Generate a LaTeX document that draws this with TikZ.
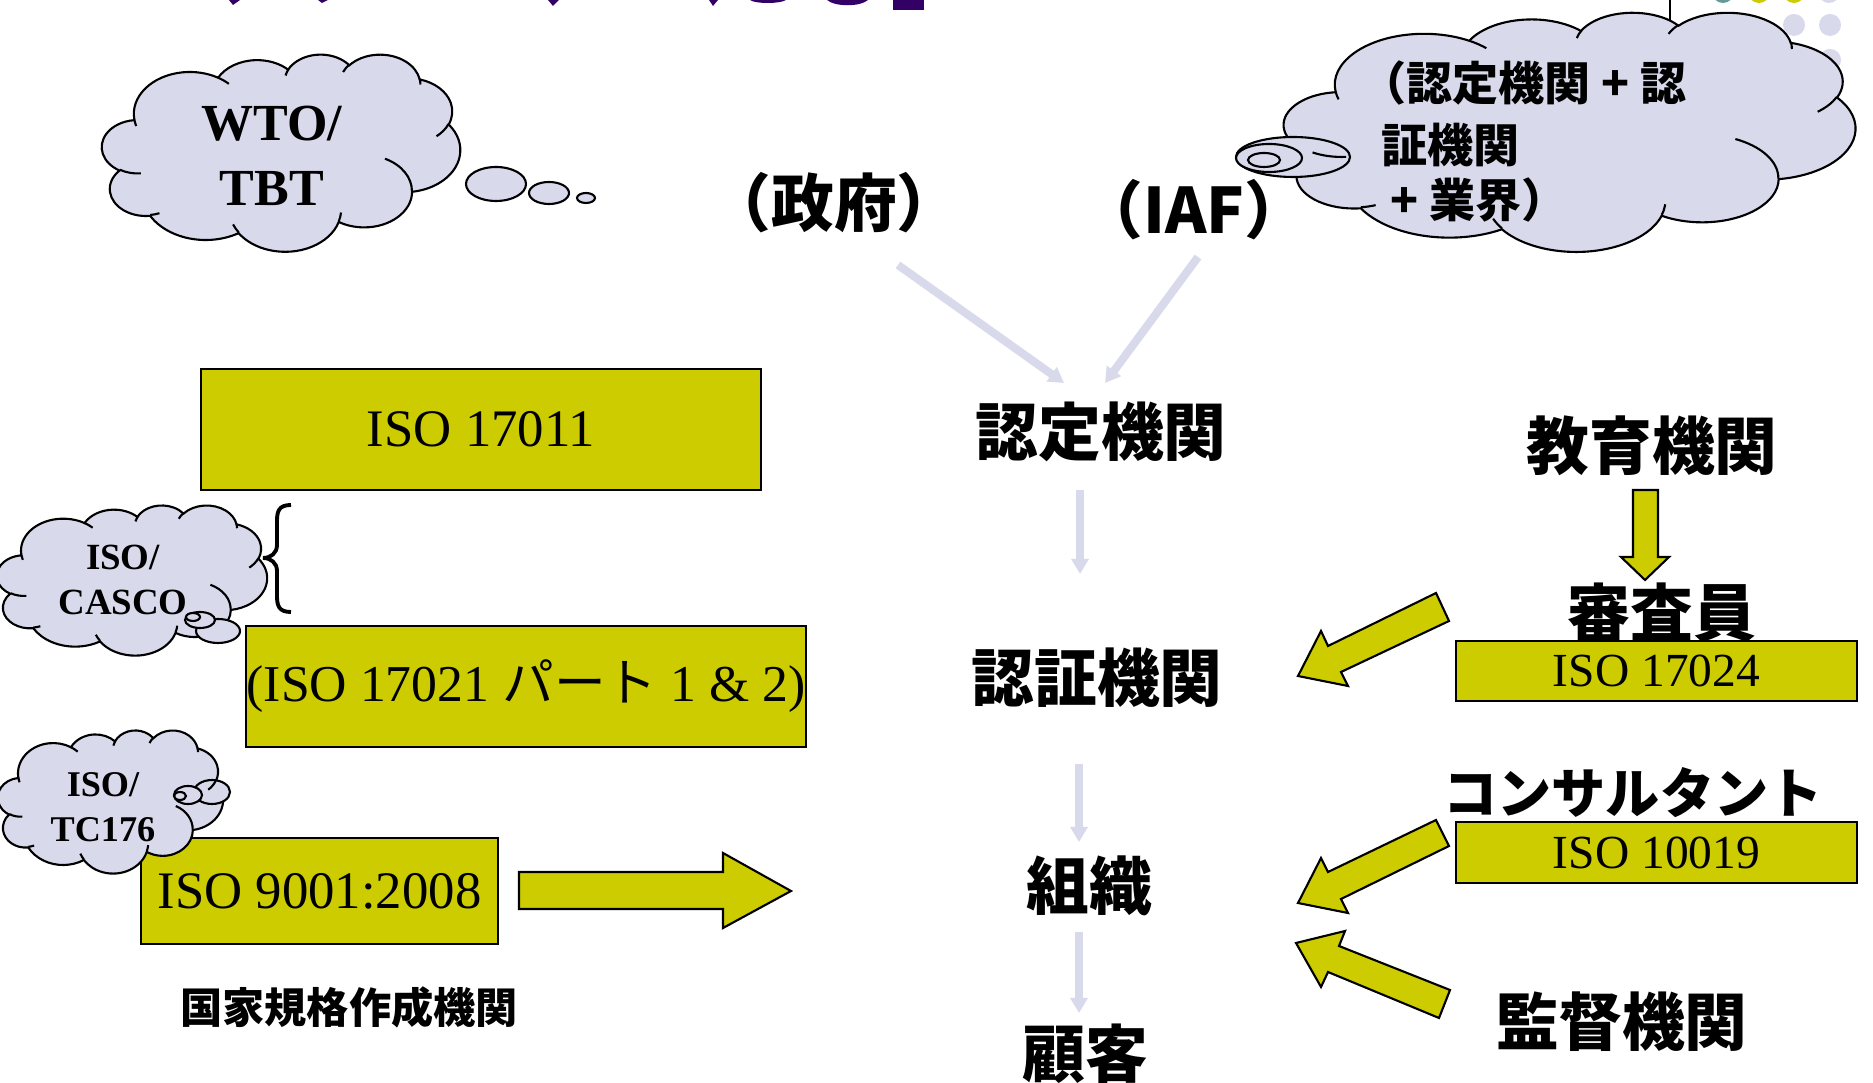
\documentclass[tikz,border=0pt]{standalone}
\usepackage{fontspec}
\setmainfont{Liberation Serif}
\newfontfamily\jp{Noto Sans CJK JP}
\usetikzlibrary{arrows.meta,calc}
\definecolor{boxyellow}{RGB}{204,204,0}
\definecolor{lav}{RGB}{217,217,236}
\definecolor{dotteal}{RGB}{102,153,153}
\definecolor{titlepurple}{RGB}{51,0,102}
\tikzset{
  ybox/.style={draw=black, line width=0.6pt, fill=boxyellow, inner sep=0pt, font=\fontsize{15pt}{18pt}\selectfont},
  jplabel/.style={inner sep=0pt, font=\jp\bfseries\fontsize{17.85pt}{20pt}\selectfont},
  cloudtext/.style={inner sep=0pt, font=\jp\bfseries\fontsize{13.1pt}{16pt}\selectfont},
  lavarrow/.style={draw=lav, line width=2.3pt, -{Triangle[width=4.8pt,length=4.3pt]}},
  blockarrow/.style={draw=black, line width=0.6pt, fill=boxyellow, line join=miter},
  cloudfill/.style={fill=lav, draw=black, line width=0.6pt},
  cloudline/.style={draw=black, line width=0.6pt},
  bubble/.style={fill=lav, draw=black, line width=0.6pt},
  serifbold/.style={inner sep=0pt, font=\bfseries\fontsize{#1}{#1}\selectfont},
}
% one arc of the cloud outline: x radius, y radius, start angle, sweep (geometric angles)
\newcommand{\ca}[4]{arc[x radius={#1/432}, y radius={#2/432}, start angle={atan2(#1*sin(#3),#2*cos(#3))}, delta angle={mod(atan2(#1*sin(#3+#4),#2*cos(#3+#4))-atan2(#1*sin(#3),#2*cos(#3))+720,360)}]}
% cloud outline in a box: left, top, width, height (pixels)
\newcommand{\cloudbody}[4]{%
\begin{scope}[shift={(#1,#2)}, x=1cm, y=1cm, xscale=#3/10000, yscale=-#4/10000]
\path[cloudfill] (9.0278,33.2639)
 \ca{6753}{9190}{-190.48748}{123.78053}
 \ca{5333}{7267}{-144.10238}{89.94523}
 \ca{4365}{5945}{-145.80792}{99.72302}
 \ca{4857}{6595}{-130.98607}{117.24173}
 \ca{5333}{7273}{-78.70888}{109.02692}
 \ca{6775}{9220}{-46.26725}{130.269}
 \ca{5785}{7867}{0.62502}{114.03333}
 \ca{6752}{9215}{22.4516}{115.17255}
 \ca{7720}{10543}{66.24263}{75.71102}
 \ca{4360}{5918}{-274.94208}{146.73557}
 \ca{4345}{5945}{-246.8285}{152.51885}
 -- cycle;
\end{scope}}
\newcommand{\cloudlines}[4]{%
\begin{scope}[shift={(#1,#2)}, x=1cm, y=1cm, xscale=#3/10000, yscale=-#4/10000]
\path[cloudline] (10.8634,60.5949) \ca{4345}{5945}{86.742}{26.4295}
 (16.0370,80.7847) \ca{4360}{5918}{73.61047}{11.44747}
 (38.1435,90.4861) \ca{6752}{9215}{137.62415}{14.0811}
 (66.7292,80.4421) \ca{6752}{9215}{6.45327}{15.99835}
 (79.0023,53.1343) \ca{5785}{7867}{-70.29235}{70.91737}
 (96.7546,35.5417) \ca{5333}{7273}{30.31803}{27.7515}
 (88.7130,12.5602) \ca{4857}{6595}{-13.74433}{14.8589}
 (67.3102,9.1481) \ca{4857}{6595}{-149.18145}{18.19537}
 (51.2523,10.9259) \ca{4365}{5945}{-163.49427}{17.68635}
 (32.4074,12.0185) \ca{6753}{9190}{-66.70695}{12.31935}
 (9.5532,36.5486) \ca{6753}{9190}{157.65435}{11.85817};
\end{scope}}
\begin{document}
\begin{tikzpicture}[x=0.01cm, y=-0.01cm]
\useasboundingbox (0,0) rectangle (1873,1083);
\fill[white] (0,0) rectangle (1873,1083);

% cut-off title fragments
\begin{scope}[fill=titlepurple]
\fill (229,0) -- (240,0) -- (233,5) -- cycle;
\fill (318,0) -- (328,0) -- (322,3) -- cycle;
\fill (548,0) -- (559,0) -- (553,6) -- cycle;
\fill (709,0) -- (718,0) -- (713,6) -- cycle;
\fill (750,0) .. controls (755,4) and (780,4) .. (786,0) -- cycle;
\fill (827,0) .. controls (835,7) and (860,7) .. (868,0) -- cycle;
\fill (893,0) rectangle (924,10);
\end{scope}

% top-right decoration dots and line
\fill[dotteal] (1723,-8) circle[radius=11];
\fill[boxyellow] (1759,-8) circle[radius=11];
\fill[boxyellow] (1794,-8) circle[radius=11];
\fill[lav] (1829,-8) circle[radius=11];
\fill[lav] (1794,25) circle[radius=11];
\fill[lav] (1830,25) circle[radius=11];
\fill[lav] (1830,60) circle[radius=11];
\draw[line width=0.6pt] (1670,0) -- (1670,40);

% clouds
\cloudbody{102}{54}{358}{197}
\draw[bubble] (496,184) ellipse[x radius=30, y radius=17];
\draw[bubble] (549,193) ellipse[x radius=20, y radius=11];
\draw[bubble] (586,198) ellipse[x radius=9, y radius=5];
\cloudlines{102}{54}{358}{197}
\node[serifbold=14.8pt, anchor=base] (wto1) at (272,141) {WTO/};
\node[serifbold=14.8pt, anchor=base] (wto2) at (272,206) {TBT};

\cloudbody{1284}{12}{571}{239}
\draw[bubble] (1293,157) ellipse[x radius=57, y radius=20];
\draw[bubble] (1269,158) ellipse[x radius=33, y radius=14];
\draw[bubble] (1264,160) ellipse[x radius=16, y radius=7];
\cloudlines{1284}{12}{571}{239}
\node[cloudtext, anchor=base west] (ct1) at (1360,101) {（認定機関 + 認};
\node[cloudtext, anchor=base west] (ct2) at (1381,163) {証機関};
\node[cloudtext, anchor=base west] (ct3) at (1390,218) {+ 業界）};

\cloudbody{-3}{505}{270}{150}
\draw[bubble] (218,631) ellipse[x radius=22, y radius=12];
\draw[bubble] (200,620) ellipse[x radius=15, y radius=8];
\draw[bubble] (193,617) ellipse[x radius=7, y radius=4];
\cloudlines{-3}{505}{270}{150}
\node[serifbold=10.5pt, anchor=base] (casco1) at (123,570) {ISO/};
\node[serifbold=10.5pt, anchor=base] (casco2) at (123,615) {CASCO};

% brace
\draw[line width=1.1pt] (291,505) .. controls (279,505) and (277,511) .. (277,521)
  -- (277,545) .. controls (277,553) and (271,558) .. (263,558)
  .. controls (271,558) and (277,563) .. (277,571)
  -- (277,596) .. controls (277,606) and (279,612) .. (291,612);

% yellow boxes
\node[ybox, minimum width=5.6cm, minimum height=1.21cm] (b17011) at (481,429.5) {ISO 17011};
\node[ybox, minimum width=5.6cm, minimum height=1.21cm, font=\fontsize{14.7pt}{17pt}\selectfont] (b17021) at (526,686.5) {(ISO 17021 {\jp パート} 1 \& 2)};
\node[ybox, minimum width=3.57cm, minimum height=1.06cm] (b9001) at (319.5,891) {ISO 9001:2008};
\node[ybox, minimum width=4.01cm, minimum height=0.60cm, font=\fontsize{13.5pt}{16pt}\selectfont] (b17024) at (1656.5,671) {ISO 17024};
\node[ybox, minimum width=4.01cm, minimum height=0.61cm, font=\fontsize{13.5pt}{16pt}\selectfont] (b10019) at (1656.5,852.5) {ISO 10019};

% TC176 cloud over the ISO 9001 box corner
\cloudbody{-2}{730}{225}{143}
\draw[bubble] (212,792) ellipse[x radius=18, y radius=12];
\draw[bubble] (188,795) ellipse[x radius=14, y radius=9];
\draw[bubble] (180,796) ellipse[x radius=6, y radius=4];
\cloudlines{-2}{730}{225}{143}
\node[serifbold=10.3pt, anchor=base] (tc1) at (103,797) {ISO/};
\node[serifbold=10.3pt, anchor=base] (tc2) at (103,842) {TC176};

\node[inner sep=0pt, font=\jp\bfseries\fontsize{12pt}{14pt}\selectfont] (kokka) at (349,1007) {国家規格作成機関};

% central chain labels
\node[jplabel] (gov) at (834,203) {（政府）};
\node[jplabel] (iaf) at (1194,210) {（IAF）};
\node[jplabel] (kotei) at (1101,432) {認定機関};
\node[jplabel] (ninsho) at (1097,678) {認証機関};
\node[jplabel] (soshiki) at (1089,886) {組織};
\node[jplabel] (kokyaku) at (1085,1054) {顧客};

% right-hand labels
\node[jplabel] (kyoiku) at (1652,446) {教育機関};
\node[jplabel] (shinsa) at (1662,613) {審査員};
\node[jplabel, font=\jp\bfseries\fontsize{15.4pt}{18pt}\selectfont] (consul) at (1633,793) {コンサルタント};
\node[jplabel] (kantoku) at (1622,1022) {監督機関};

% lavender connectors
\draw[lavarrow] ($(gov.center)+(64,62)$) -- ($(kotei.center)+(-37,-49)$);
\draw[lavarrow] ($(iaf.center)+(4,47)$) -- ($(kotei.center)+(4,-49)$);
\draw[lavarrow] ($(kotei.center)+(-21,58)$) -- ($(ninsho.center)+(-17,-104)$);
\draw[lavarrow] ($(ninsho.center)+(-18,86)$) -- ($(soshiki.center)+(-10,-44)$);
\draw[lavarrow] ($(soshiki.center)+(-10,46)$) -- ($(kokyaku.center)+(-6,-41)$);

% yellow block arrows
\draw[blockarrow] (519,872) -- (723,872) -- (723,853) -- (791,891) -- (723,928) -- (723,909) -- (519,909) -- cycle;
\draw[blockarrow] (1633,490) -- (1658,490) -- (1658,557) -- (1669,557) -- (1645,580) -- (1621,557) -- (1633,557) -- cycle;
\draw[blockarrow] (1298,676) -- (1321,631) -- (1328,646) -- (1436,593) -- (1449,621) -- (1341,672) -- (1348,686) -- cycle;
\draw[blockarrow] (1298,903) -- (1321,858) -- (1328,872) -- (1436,820) -- (1449,846) -- (1341,899) -- (1348,913) -- cycle;
\draw[blockarrow] (1296,943) -- (1345,931) -- (1339,946) -- (1450,990) -- (1439,1018) -- (1328,972) -- (1321,987) -- cycle;
\end{tikzpicture}
\end{document}
